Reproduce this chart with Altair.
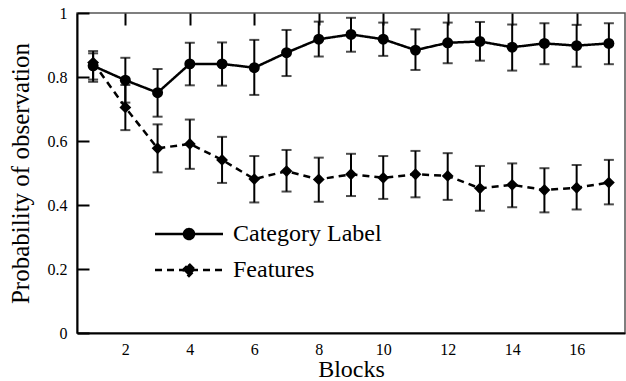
import altair as alt
import pandas as pd

blocks = list(range(1, 18))
series_names = ["Category Label", "Features"]

cat_mean = [0.835, 0.79, 0.751, 0.841, 0.841, 0.829, 0.876, 0.918, 0.933, 0.918, 0.884, 0.907, 0.911, 0.893, 0.905, 0.898, 0.905]
cat_hi = [0.881, 0.86, 0.825, 0.907, 0.908, 0.916, 0.947, 0.973, 0.985, 0.970, 0.949, 0.970, 0.972, 0.964, 0.968, 0.963, 0.968]
cat_lo = [0.785, 0.72, 0.676, 0.774, 0.773, 0.744, 0.803, 0.864, 0.879, 0.866, 0.822, 0.843, 0.851, 0.820, 0.840, 0.832, 0.840]

feat_mean = [0.845, 0.705, 0.577, 0.591, 0.541, 0.481, 0.506, 0.480, 0.496, 0.485, 0.496, 0.491, 0.452, 0.463, 0.447, 0.454, 0.470]
feat_hi = [0.874, 0.775, 0.652, 0.667, 0.613, 0.553, 0.572, 0.548, 0.560, 0.553, 0.569, 0.562, 0.522, 0.530, 0.515, 0.525, 0.541]
feat_lo = [0.792, 0.634, 0.502, 0.513, 0.469, 0.408, 0.442, 0.410, 0.428, 0.419, 0.424, 0.416, 0.382, 0.393, 0.377, 0.386, 0.402]

x_ticks = [2, 4, 6, 8, 10, 12, 14, 16]
y_ticks = [0, 0.2, 0.4, 0.6, 0.8, 1]

rows = []
for name, m, hi, lo in [(series_names[0], cat_mean, cat_hi, cat_lo),
                        (series_names[1], feat_mean, feat_hi, feat_lo)]:
    for b, mv, h, l in zip(blocks, m, hi, lo):
        rows.append({"block": b, "series": name, "mean": mv, "hi": h, "lo": l})
df = pd.DataFrame(rows)

FONT = "Liberation Serif"

x_enc = alt.X("block:Q", scale=alt.Scale(domain=[0.5, 17.5], nice=False, zero=False),
              axis=alt.Axis(values=x_ticks, title="Blocks", grid=True, gridDash=[12, 2000],
                            gridColor="black", gridWidth=2, gridOpacity=1, ticks=False,
                            domainColor="black", domainWidth=2, labelFont=FONT,
                            labelFontSize=16, labelColor="black", labelPadding=8,
                            titleFont=FONT, titleFontSize=24, titleFontWeight="normal",
                            titleColor="black", titlePadding=0, labelFlush=False))
y_scale = alt.Scale(domain=[0, 1], nice=False, zero=True)
y_axis = alt.Axis(values=y_ticks, format=".1~f", title="Probability of observation",
                  grid=True, gridDash=[12, 2000], gridColor="black", gridWidth=2,
                  gridOpacity=1, ticks=False, domainColor="black", domainWidth=2,
                  labelFont=FONT, labelFontSize=16, labelColor="black", labelPadding=10,
                  titleFont=FONT, titleFontSize=25, titleFontWeight="normal",
                  titleColor="black", titlePadding=14, labelFlush=False)

base = alt.Chart(df)

# legend symbol: a horizontal line with the marker in its middle (unit = 5 px)
circle_path = "M-6.8,0H6.8M1,0A1,1 0 1,1 -1,0A1,1 0 1,1 1,0Z"
diamond_path = "M-6.8,0H6.8M0,-1.2L1.2,0L0,1.2L-1.2,0Z"
shape_expr = f"datum.value === '{series_names[0]}' ? '{circle_path}' : '{diamond_path}'"

legend_spec = alt.Legend(
    title=None, orient="none", legendX=100, legendY=209, padding=0,
    symbolSize=100, symbolStrokeWidth=2.5, symbolStrokeColor="black",
    symbolFillColor="black", symbolType={"expr": shape_expr}, symbolOpacity=1,
    labelFont=FONT, labelFontSize=24, labelColor="black", labelOffset=32,
    rowPadding=12,
)

lines = base.mark_line(strokeWidth=2.5).encode(
    x=x_enc,
    y=alt.Y("mean:Q", scale=y_scale, axis=y_axis),
    stroke=alt.Stroke("series:N", scale=alt.Scale(domain=series_names, range=["black", "black"]),
                      legend=legend_spec),
    strokeDash=alt.StrokeDash(
        "series:N",
        scale=alt.Scale(domain=series_names, range=[[1, 0], [7, 5]]),
        legend=legend_spec,
    ),
)

errs = base.mark_rule(color="black", strokeWidth=2).encode(
    x="block:Q", y="lo:Q", y2="hi:Q")
caps_hi = base.mark_tick(color="black", orient="horizontal", size=10, thickness=2).encode(
    x="block:Q", y="hi:Q")
caps_lo = base.mark_tick(color="black", orient="horizontal", size=10, thickness=2).encode(
    x="block:Q", y="lo:Q")

pts_cat = base.transform_filter(alt.datum.series == series_names[0]).mark_point(
    filled=True, color="black", opacity=1, shape="circle", size=120
).encode(x="block:Q", y="mean:Q")
pts_feat = base.transform_filter(alt.datum.series == series_names[1]).mark_point(
    filled=True, color="black", opacity=1, shape="diamond", size=140
).encode(x="block:Q", y="mean:Q")

chart = alt.layer(errs, caps_hi, caps_lo, lines, pts_cat, pts_feat).properties(
    width=548, height=320,
    autosize=alt.AutoSizeParams(type="none"),
    padding={"left": 77, "top": 13, "right": 1, "bottom": 48},
    background="white",
).configure_view(stroke="#555555", strokeWidth=1.5)

chart.save("out.html", embed_options={"renderer": "svg", "actions": False})
